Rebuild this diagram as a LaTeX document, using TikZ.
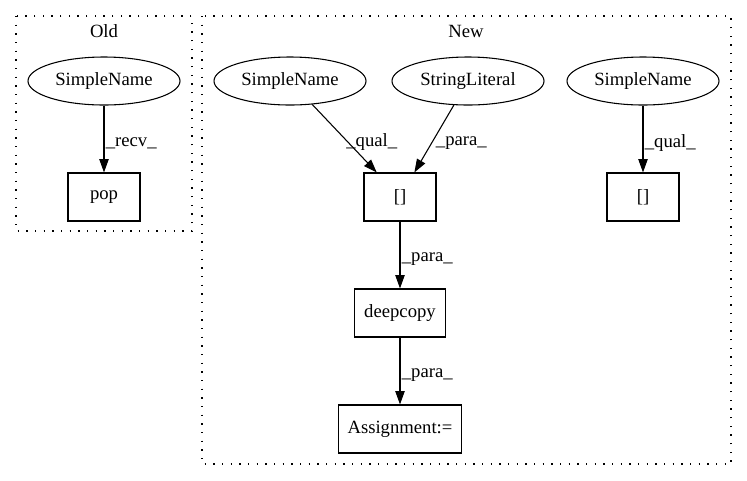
\documentclass[tikz,border=0pt]{standalone}
\usepackage{fontspec}
\setmainfont{Liberation Serif}
\usetikzlibrary{shapes.geometric,arrows.meta}

\begin{document}
\begin{tikzpicture}[
        x=0.75pt,y=-0.75pt,
        font=\fontsize{14pt}{16pt}\selectfont,
        EllipseCfg/.style={
            ellipse,
            draw,
            line width=0.8pt,
            minimum width=114pt,
            minimum height=36pt,
            inner sep=0pt
        },
        BoxCfg/.style={
            rectangle,
            draw,
            line width=0.8pt,
            minimum width=54pt,
            minimum height=36pt,
            inner xsep=7pt
        },
        ClusterCfg/.style={
            draw,
            line width=0.9pt,
            dash pattern=on 1pt off 5.5pt
        },
        EdgeCfg/.style={
            -{Triangle[length=10pt,width=7pt]},
            line width=0.8pt
        },
        LabelCfg/.style={
            midway,
            right,
            inner sep=1pt,
            yshift=-3pt
        }
    ]
    \useasboundingbox (0,0) rectangle (747,480);
    
    %Old cluster
    \draw[ClusterCfg] (16,16) rectangle (192,231);
    \draw (104,31)node[](OldTitle){Old};
    \draw (104,81)node[EllipseCfg](OldName){SimpleName};
    \draw (104,197)node[BoxCfg](Pop){pop};
    
    %New cluster
    \draw[ClusterCfg] (202,16) rectangle (731,464);
    \draw (466,31)node[](NewTitle){New};
    \draw (290,81)node[EllipseCfg](NameA){SimpleName};
    \draw (468,81)node[EllipseCfg](StrLit){StringLiteral};
    \draw (643,81)node[EllipseCfg](NameB){SimpleName};
    \draw (400,197)node[BoxCfg](IndexA){[]};
    \draw (643,197)node[BoxCfg](IndexB){[]};
    \draw (400,313)node[BoxCfg](Copy){deepcopy};
    \draw (400,429)node[BoxCfg](Assign){Assignment:=};
    
    %connections
    \draw[EdgeCfg] (OldName)--(Pop)node[LabelCfg]{\_recv\_};
    \draw[EdgeCfg] (NameA)--(IndexA)node[LabelCfg]{\_qual\_};
    \draw[EdgeCfg] (StrLit)--(IndexA)node[LabelCfg]{\_para\_};
    \draw[EdgeCfg] (NameB)--(IndexB)node[LabelCfg]{\_qual\_};
    \draw[EdgeCfg] (IndexA)--(Copy)node[LabelCfg]{\_para\_};
    \draw[EdgeCfg] (Copy)--(Assign)node[LabelCfg]{\_para\_};
    
\end{tikzpicture}
\end{document}
